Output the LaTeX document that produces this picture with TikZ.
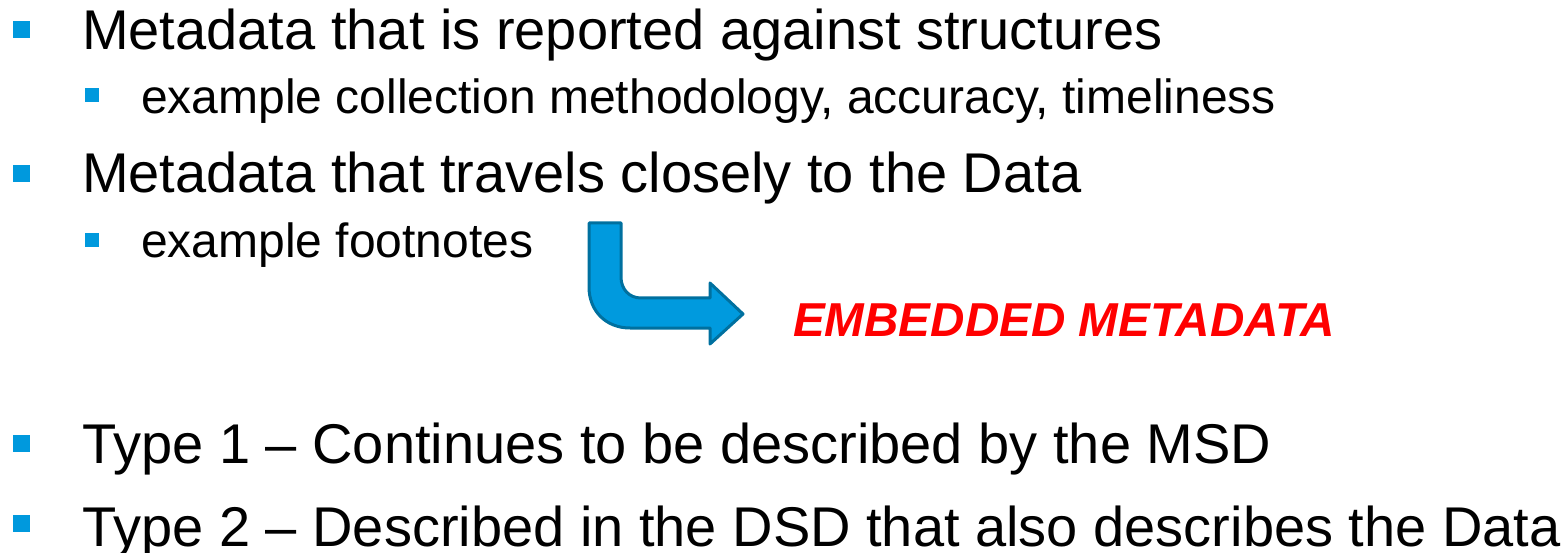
\documentclass[tikz,border=0pt]{standalone}
\usepackage{fontspec}
\setmainfont{Liberation Sans}
\definecolor{bulletblue}{HTML}{0099DD}
\definecolor{arrowfill}{HTML}{009ADE}
\definecolor{arrowline}{HTML}{00709F}
\definecolor{embred}{HTML}{FF0000}
\begin{document}
\begin{tikzpicture}[x=1pt,y=-1pt,
  mainbul/.style={fill=bulletblue,minimum size=17pt,inner sep=0pt,draw=none},
  subbul/.style={fill=bulletblue,minimum size=14pt,inner sep=0pt,draw=none},
  maintext/.style={anchor=base west,inner sep=0pt,font=\fontsize{56}{60}\selectfont},
  subtext/.style={anchor=base west,inner sep=0pt,font=\fontsize{48}{52}\selectfont},
  emb/.style={anchor=base west,inner sep=0pt,text=embred,font=\fontsize{47.6}{50}\selectfont\bfseries\itshape}]
\useasboundingbox (0,0) rectangle (1566,553);
\node[mainbul] (b1) at (21.5,29.5) {};
\node[maintext] (t1) at (82,50) {Metadata that is reported against structures};
\node[subbul] (b2) at (92,95.5) {};
\node[subtext] (t2) at (141,114) {example collection methodology, accuracy, timeliness};
\node[mainbul] (b3) at (21.5,173.5) {};
\node[maintext] (t3) at (82,193) {Metadata that travels closely to the Data};
\node[subbul] (b4) at (92,240) {};
\node[subtext] (t4) at (141,258) {example footnotes};
\node[emb] (e) at (793,337) {EMBEDDED METADATA};
\node[mainbul] (b5) at (21.5,443.5) {};
\node[maintext] (t5) at (82,463) {Type 1 – Continues to be described by the MSD};
\node[mainbul] (b6) at (21.5,523.5) {};
\node[maintext] (t6) at (82,546) {Type 2 – Described in the DSD that also describes the Data};
\draw[fill=arrowfill,draw=arrowline,line width=3pt,line join=round]
  (589,223) -- (621,223) -- (621,277) .. controls (621,289) and (629,298) .. (641,298)
  -- (710,298) -- (710,283) -- (743,314) -- (710,344) -- (710,328) -- (630,328)
  .. controls (606,328) and (589,311) .. (589,287) -- cycle;
\end{tikzpicture}
\end{document}
